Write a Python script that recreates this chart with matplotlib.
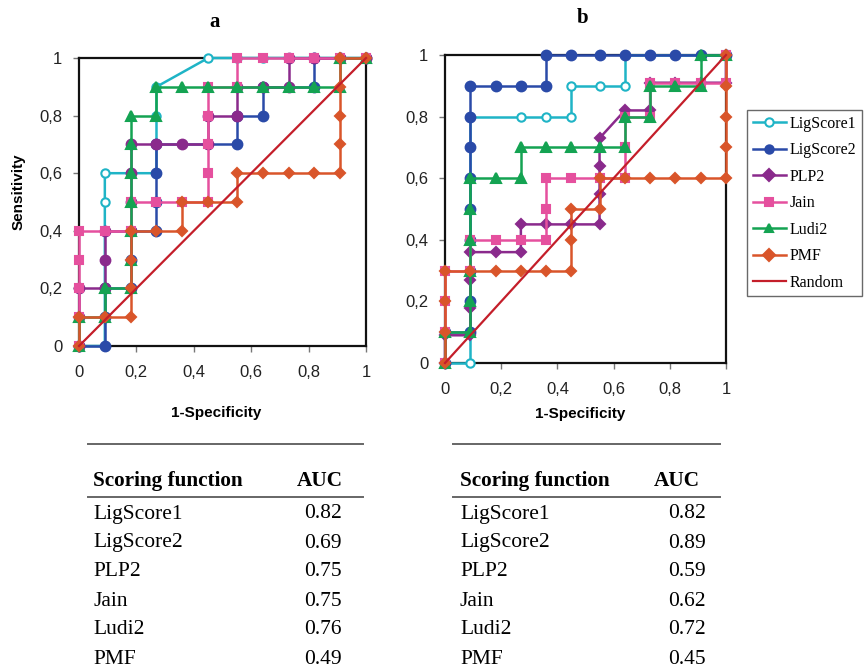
import matplotlib
matplotlib.use("Agg")
import matplotlib.pyplot as plt
from matplotlib.lines import Line2D

W, H = 867, 669
SANS = ["Liberation Sans", "DejaVu Sans"]
SERIF = ["Liberation Serif", "DejaVu Serif"]

series_names = ["LigScore1", "LigScore2", "PLP2", "Jain", "Ludi2", "PMF"]
colors = ["#1fb4c6", "#2a4aa8", "#8a2a8c", "#e5509e", "#14a352", "#d9552a"]
random_color = "#c41e2a"

# ---------------- Panel a ----------------
a_lig1_x = [0, 0.09, 0.09, 0.09, 0.18, 0.27, 0.27, 0.27, 0.45, 0.55, 0.64, 0.73, 0.82, 0.91, 1]
a_lig1_y = [0, 0, 0.5, 0.6, 0.6, 0.6, 0.8, 0.9, 1, 1, 1, 1, 1, 1, 1]
a_lig2_x = [0, 0.09, 0.09, 0.09, 0.18, 0.18, 0.18, 0.27, 0.27, 0.27, 0.27, 0.55, 0.55, 0.64, 0.64, 0.82, 0.82, 0.91, 1]
a_lig2_y = [0, 0, 0.1, 0.2, 0.2, 0.3, 0.4, 0.4, 0.5, 0.6, 0.7, 0.7, 0.8, 0.8, 0.9, 0.9, 1, 1, 1]
a_plp2_x = [0, 0, 0, 0.09, 0.09, 0.09, 0.18, 0.18, 0.18, 0.18, 0.27, 0.36, 0.45, 0.45, 0.55, 0.55, 0.64, 0.73, 0.73, 0.82, 0.91, 1]
a_plp2_y = [0, 0.1, 0.2, 0.2, 0.3, 0.4, 0.4, 0.5, 0.6, 0.7, 0.7, 0.7, 0.7, 0.8, 0.8, 0.9, 0.9, 0.9, 1, 1, 1, 1]
a_jain_x = [0, 0, 0, 0, 0, 0.09, 0.18, 0.18, 0.27, 0.36, 0.45, 0.45, 0.45, 0.45, 0.45, 0.55, 0.55, 0.64, 0.73, 0.82, 0.91, 1]
a_jain_y = [0, 0.1, 0.2, 0.3, 0.4, 0.4, 0.4, 0.5, 0.5, 0.5, 0.5, 0.6, 0.7, 0.8, 0.9, 0.9, 1, 1, 1, 1, 1, 1]
a_ludi2_x = [0, 0, 0.09, 0.09, 0.18, 0.18, 0.18, 0.18, 0.18, 0.18, 0.18, 0.27, 0.27, 0.36, 0.45, 0.55, 0.64, 0.73, 0.82, 0.91, 0.91, 1]
a_ludi2_y = [0, 0.1, 0.1, 0.2, 0.2, 0.3, 0.4, 0.5, 0.6, 0.7, 0.8, 0.8, 0.9, 0.9, 0.9, 0.9, 0.9, 0.9, 0.9, 0.9, 1, 1]
a_pmf_x = [0, 0, 0.09, 0.18, 0.18, 0.18, 0.18, 0.27, 0.36, 0.36, 0.45, 0.55, 0.55, 0.64, 0.73, 0.82, 0.91, 0.91, 0.91, 0.91, 0.91, 1]
a_pmf_y = [0, 0.1, 0.1, 0.1, 0.2, 0.3, 0.4, 0.4, 0.4, 0.5, 0.5, 0.5, 0.6, 0.6, 0.6, 0.6, 0.6, 0.7, 0.8, 0.9, 1, 1]

# ---------------- Panel b ----------------
b_lig1_x = [0, 0.09, 0.09, 0.09, 0.27, 0.36, 0.45, 0.45, 0.55, 0.64, 0.64, 0.73, 0.82, 0.91, 1]
b_lig1_y = [0, 0, 0.1, 0.8, 0.8, 0.8, 0.8, 0.9, 0.9, 0.9, 1, 1, 1, 1, 1]
b_lig2_x = [0, 0, 0.09, 0.09, 0.09, 0.09, 0.09, 0.09, 0.09, 0.09, 0.09, 0.18, 0.27, 0.36, 0.36, 0.45, 0.55, 0.64, 0.73, 0.82, 0.91, 1]
b_lig2_y = [0, 0.1, 0.1, 0.2, 0.3, 0.4, 0.5, 0.6, 0.7, 0.8, 0.9, 0.9, 0.9, 0.9, 1, 1, 1, 1, 1, 1, 1, 1]
b_plp2_x = [0, 0, 0.09, 0.09, 0.09, 0.09, 0.18, 0.27, 0.27, 0.36, 0.45, 0.55, 0.55, 0.55, 0.55, 0.64, 0.73, 0.73, 0.82, 0.91, 1, 1]
b_plp2_y = [0, 0.09, 0.09, 0.18, 0.27, 0.36, 0.36, 0.36, 0.45, 0.45, 0.45, 0.45, 0.55, 0.64, 0.73, 0.82, 0.82, 0.91, 0.91, 0.91, 0.91, 1]
b_jain_x = [0, 0, 0, 0, 0.09, 0.09, 0.18, 0.27, 0.36, 0.36, 0.36, 0.45, 0.55, 0.64, 0.64, 0.64, 0.73, 0.73, 0.82, 0.91, 1, 1]
b_jain_y = [0, 0.1, 0.2, 0.3, 0.3, 0.4, 0.4, 0.4, 0.4, 0.5, 0.6, 0.6, 0.6, 0.6, 0.7, 0.8, 0.8, 0.91, 0.91, 0.91, 0.91, 1]
b_ludi2_x = [0, 0, 0.09, 0.09, 0.09, 0.09, 0.09, 0.09, 0.18, 0.27, 0.27, 0.36, 0.45, 0.55, 0.64, 0.64, 0.73, 0.73, 0.82, 0.91, 0.91, 1]
b_ludi2_y = [0, 0.1, 0.1, 0.2, 0.3, 0.4, 0.5, 0.6, 0.6, 0.6, 0.7, 0.7, 0.7, 0.7, 0.7, 0.8, 0.8, 0.9, 0.9, 0.9, 1, 1]
b_pmf_x = [0, 0, 0, 0, 0.09, 0.18, 0.27, 0.36, 0.45, 0.45, 0.45, 0.55, 0.55, 0.64, 0.73, 0.82, 0.91, 1, 1, 1, 1, 1]
b_pmf_y = [0, 0.1, 0.2, 0.3, 0.3, 0.3, 0.3, 0.3, 0.3, 0.4, 0.5, 0.5, 0.6, 0.6, 0.6, 0.6, 0.6, 0.6, 0.7, 0.8, 0.9, 1]

random_x = [0, 1]
random_y = [0, 1]

ticks = [0, 0.2, 0.4, 0.6, 0.8, 1]
tick_labels = ["0", "0,2", "0,4", "0,6", "0,8", "1"]

auc_a = ["0.82", "0.69", "0.75", "0.75", "0.76", "0.49"]
auc_b = ["0.82", "0.89", "0.59", "0.62", "0.72", "0.45"]

fig = plt.figure(figsize=(W / 100, H / 100), dpi=100)


def fx(px):
    return px / W


def fy(py):
    return 1 - py / H


def make_axes(l, t, r, b):
    return fig.add_axes([fx(l), fy(b), fx(r) - fx(l), fy(t) - fy(b)])


def style_ax(ax):
    ax.set_xlim(0, 1)
    ax.set_ylim(0, 1)
    ax.set_xticks(ticks)
    ax.set_yticks(ticks)
    ax.set_xticklabels(tick_labels, family=SANS, fontsize=12, color="#222222")
    ax.set_yticklabels(tick_labels, family=SANS, fontsize=12, color="#222222")
    ax.tick_params(axis="x", direction="out", length=4, width=1, color="#777777", pad=10)
    ax.tick_params(axis="y", direction="out", length=4, width=1, color="#777777", pad=8)
    for s in ax.spines.values():
        s.set_color("#111111")
        s.set_linewidth(1.6)


markers_a = ["o", "o", "o", "s", "^", "D"]
markers_b = ["o", "o", "D", "s", "^", "D"]
sizes_a = [6, 7, 7, 5.5, 7, 5]
sizes_b = [6, 7, 5, 5.5, 7, 5]


def draw(ax, data, markers, sizes):
    handles = []
    for i, (xs, ys) in enumerate(data):
        c = colors[i]
        mfc = "white" if i == 0 else c
        h, = ax.plot(xs, ys, color=c, lw=1.8, marker=markers[i], markersize=sizes[i],
                     markerfacecolor=mfc, markeredgecolor=c, markeredgewidth=1.5,
                     clip_on=False, zorder=3 + i, label=series_names[i])
        handles.append(h)
    h, = ax.plot(random_x, random_y, color=random_color, lw=1.6, zorder=10, clip_on=False, label="Random")
    handles.append(h)
    return handles


ax_a = make_axes(79, 58, 366, 346)
style_ax(ax_a)
draw(ax_a, [(a_lig1_x, a_lig1_y), (a_lig2_x, a_lig2_y), (a_plp2_x, a_plp2_y),
            (a_jain_x, a_jain_y), (a_ludi2_x, a_ludi2_y), (a_pmf_x, a_pmf_y)], markers_a, sizes_a)

ax_b = make_axes(445, 55, 726, 363)
style_ax(ax_b)
hb = draw(ax_b, [(b_lig1_x, b_lig1_y), (b_lig2_x, b_lig2_y), (b_plp2_x, b_plp2_y),
                 (b_jain_x, b_jain_y), (b_ludi2_x, b_ludi2_y), (b_pmf_x, b_pmf_y)], markers_b, sizes_b)

# Titles and axis labels
fig.text(fx(215), fy(22), "a", family=SERIF, fontsize=15, fontweight="bold", ha="center", va="center")
fig.text(fx(583), fy(18), "b", family=SERIF, fontsize=15, fontweight="bold", ha="center", va="center")
fig.text(fx(216), fy(413), "1-Specificity", family=SANS, fontsize=11, fontweight="bold", ha="center", va="center")
fig.text(fx(580), fy(414), "1-Specificity", family=SANS, fontsize=11, fontweight="bold", ha="center", va="center")
fig.text(fx(19), fy(192), "Sensitivity", family=SANS, fontsize=11, fontweight="bold", ha="center", va="center",
         rotation=90)

# Legend
leg = fig.legend(hb, series_names + ["Random"], loc="upper left",
                 bbox_to_anchor=(fx(747), fy(110)), borderaxespad=0,
                 prop={"family": SERIF, "size": 11.5}, frameon=True, fancybox=False,
                 edgecolor="#444444", handlelength=2.1, handletextpad=0.2,
                 labelspacing=0.66, borderpad=0.35)
leg.get_frame().set_linewidth(1.0)
for h in leg.legend_handles:
    h.set_markersize(6)

# Tables
row_y = [514, 543, 572, 601, 630, 659]


def table(x0, x1, xname, xauc, xval, aucs):
    fig.add_artist(Line2D([fx(x0), fx(x1)], [fy(444), fy(444)], color="#666666", lw=1.4))
    fig.add_artist(Line2D([fx(x0), fx(x1)], [fy(497), fy(497)], color="#666666", lw=1.4))
    fig.text(fx(xname), fy(481), "Scoring function", family=SERIF, fontsize=15.3, fontweight="bold",
             ha="left", va="center")
    fig.text(fx(xauc), fy(481), "AUC", family=SERIF, fontsize=15.3, fontweight="bold", ha="left", va="center")
    for name, v, y in zip(series_names, aucs, row_y):
        fig.text(fx(xname), fy(y), name, family=SERIF, fontsize=15.5, ha="left", va="center")
        fig.text(fx(xval), fy(y), v, family=SERIF, fontsize=15.5, ha="left", va="center")


table(88, 363, 93, 297, 304, auc_a)
table(453, 720, 460, 654, 668, auc_b)

fig.savefig("out.png", dpi=100)
